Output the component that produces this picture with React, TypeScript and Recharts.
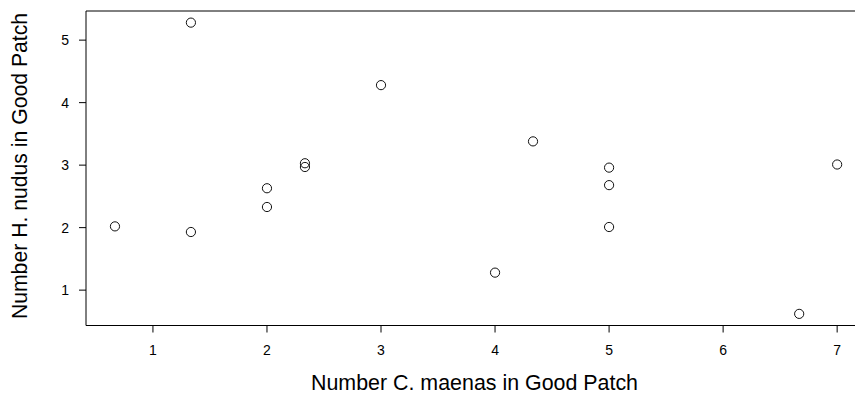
import React from 'react';
import { ScatterChart, Scatter, XAxis, YAxis, Label, ReferenceLine } from 'recharts';

// crab counts per patch
const maenas = [0.667, 1.333, 1.333, 2, 2, 2.333, 2.333, 3, 4, 4.333, 5, 5, 5, 6.667, 7];
const nudus = [2.02, 5.28, 1.93, 2.63, 2.33, 3.03, 2.97, 4.28, 1.28, 3.38, 2.96, 2.68, 2.01, 0.62, 3.01];
const xTicks = [1, 2, 3, 4, 5, 6, 7];
const yTicks = [1, 2, 3, 4, 5];

const xDomain: [number, number] = [0.413, 7.253];
const yDomain: [number, number] = [0.434, 5.466];

const points = maenas.map((x, i) => ({ x, y: nudus[i] }));

const font = '"Liberation Sans", Arial, sans-serif';

const OpenCircle = (props: any) => {
    const { cx, cy } = props;
    return <circle cx={cx} cy={cy} r={4.6} fill="none" stroke="#111" strokeWidth={1} />;
};

const YTitle = () => (
    <text x={27} y={166} transform="rotate(-90, 27, 166)" textAnchor="middle"
        fontSize={21.2} fontFamily={font} fill="#000">
        Number H. nudus in Good Patch
    </text>
);

export default function App() {
    return (
        <div style={{ position: 'fixed', left: 0, top: 0, width: 855, height: 397, overflow: 'hidden', background: '#fff' }}>
            <ScatterChart width={875} height={397} margin={{ top: 11, right: 9, bottom: 0, left: 0 }}>
                <XAxis type="number" dataKey="x" domain={xDomain} ticks={xTicks} allowDataOverflow
                    height={71.5} tickSize={7} tickMargin={13}
                    tick={{ fontSize: 14, fontFamily: font, fill: '#000' }}
                    axisLine={{ stroke: '#000' }} tickLine={{ stroke: '#000' }}>
                    <Label value="Number C. maenas in Good Patch" position="insideBottom" offset={7}
                        dx={-1.5} style={{ fontSize: 21.4, fontFamily: font, fill: '#000' }} />
                </XAxis>
                <YAxis type="number" dataKey="y" domain={yDomain} ticks={yTicks} allowDataOverflow
                    width={86} tickSize={7} tickMargin={10}
                    tick={{ fontSize: 14, fontFamily: font, fill: '#000' }}
                    axisLine={{ stroke: '#000' }} tickLine={{ stroke: '#000' }}>
                    <Label content={<YTitle />} />
                </YAxis>
                <ReferenceLine y={yDomain[1]} stroke="#000" ifOverflow="visible" />
                <Scatter data={points} shape={<OpenCircle />} isAnimationActive={false} />
            </ScatterChart>
        </div>
    );
}
